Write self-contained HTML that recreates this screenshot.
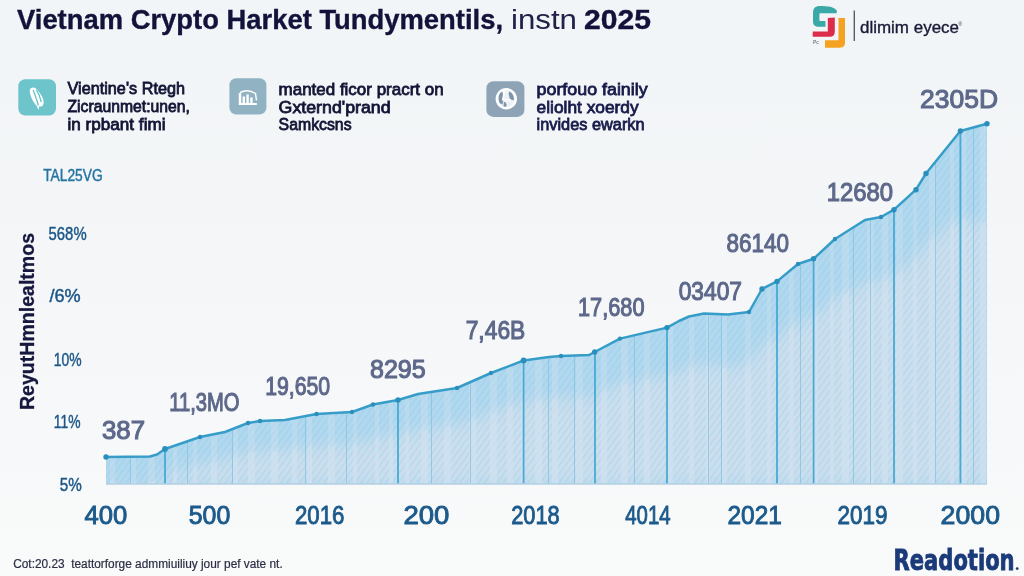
<!DOCTYPE html>
<html><head><meta charset="utf-8"><title>Vietnam Crypto Market</title>
<style>
html,body{margin:0;padding:0;width:1024px;height:576px;overflow:hidden;background:linear-gradient(180deg,#f2f5f7 0%,#f4f6f8 45%,#f9fafa 100%);}
svg{display:block;position:absolute;left:0;top:0;}
text{font-family:"Liberation Sans",Arial,sans-serif;}
.t{font-weight:700;fill:#12123a;stroke:#12123a;stroke-width:0.35px;font-size:27px;}
.b{font-size:17px;fill:#131536;stroke:#131536;stroke-width:0.8px;}
.p{font-size:18px;fill:#1c5688;stroke:#1c5688;stroke-width:0.45px;}
.d{font-size:26px;fill:#5d688a;stroke:#5d688a;stroke-width:1.1px;}
.x{font-size:25px;fill:#1c5a8b;stroke:#1c5a8b;stroke-width:0.9px;}
</style></head>
<body>
<svg width="1024" height="576" viewBox="0 0 1024 576">
<defs>
  <pattern id="hatch" patternUnits="userSpaceOnUse" width="5" height="5" patternTransform="rotate(36)">
    <rect width="1.8" height="5" fill="#9fd2ea"/>
  </pattern>
  <clipPath id="area"><path d="M106,484 L106.0,457.0 L150.0,456.5 L157.0,454.5 L165.0,449.0 L200.0,437.0 L225.0,432.0 L248.0,423.0 L260.0,421.0 L285.0,420.0 L316.5,414.0 L334.0,413.0 L352.0,412.0 L373.0,404.5 L398.0,400.0 L418.0,394.0 L457.0,388.0 L491.0,373.0 L523.6,360.5 L549.0,357.0 L561.0,356.0 L589.0,355.0 L594.7,352.0 L620.0,338.6 L667.0,327.6 L679.0,321.0 L689.0,316.5 L704.0,313.5 L728.0,314.5 L749.0,312.0 L762.0,289.0 L777.0,281.4 L798.0,264.0 L813.6,258.8 L835.0,239.0 L865.0,220.0 L881.0,217.0 L894.0,209.7 L916.0,189.7 L926.0,173.5 L960.4,131.0 L987.0,123.8 L987,484 Z"/></clipPath>
  <clipPath id="band"><path d="M106,484 L106.0,481.0 L116.0,481.3 L126.0,481.6 L136.0,481.9 L146.0,482.2 L156.1,480.8 L166.1,475.1 L176.1,472.1 L186.1,469.0 L196.1,466.0 L206.1,463.9 L216.1,462.3 L226.1,460.5 L236.1,456.9 L246.2,453.4 L256.2,451.8 L266.2,451.3 L276.2,451.3 L286.2,451.1 L296.2,449.6 L306.2,448.1 L316.2,446.6 L326.2,446.4 L336.3,446.3 L346.3,446.1 L356.3,444.7 L366.3,441.5 L376.3,438.9 L386.3,437.5 L396.3,436.2 L406.3,433.8 L416.4,431.2 L426.4,429.9 L436.4,428.8 L446.4,427.7 L456.4,426.6 L466.4,422.8 L476.4,418.9 L486.4,414.9 L496.4,411.3 L506.5,407.9 L516.5,404.5 L526.5,401.8 L536.5,400.9 L546.5,399.9 L556.5,399.4 L566.5,399.3 L576.5,399.4 L586.5,399.5 L596.6,395.9 L606.6,391.2 L616.6,386.5 L626.6,383.8 L636.6,382.2 L646.6,380.5 L656.6,378.8 L666.6,377.1 L676.6,372.4 L686.7,368.3 L696.7,366.4 L706.7,365.7 L716.7,366.8 L726.7,367.9 L736.7,367.6 L746.7,367.1 L756.7,353.8 L766.8,342.8 L776.8,338.4 L786.8,330.9 L796.8,323.3 L806.8,320.0 L816.8,315.5 L826.8,306.9 L836.8,298.9 L846.8,293.3 L856.9,288.0 L866.9,283.8 L876.9,283.1 L886.9,280.3 L896.9,274.9 L906.9,267.1 L916.9,258.6 L926.9,244.0 L936.9,235.4 L947.0,227.9 L957.0,220.5 L967.0,219.4 L977.0,221.6 L987.0,223.8 L987,484 Z"/></clipPath>
  <filter id="bl" x="-5%" y="-20%" width="110%" height="140%"><feGaussianBlur stdDeviation="8"/></filter>
</defs>
<g clip-path="url(#area)">
  <rect x="100" y="110" width="900" height="380" fill="#b2d8ef"/>
  <path d="M106,484 L106.0,481.0 L116.0,481.3 L126.0,481.6 L136.0,481.9 L146.0,482.2 L156.1,480.8 L166.1,475.1 L176.1,472.1 L186.1,469.0 L196.1,466.0 L206.1,463.9 L216.1,462.3 L226.1,460.5 L236.1,456.9 L246.2,453.4 L256.2,451.8 L266.2,451.3 L276.2,451.3 L286.2,451.1 L296.2,449.6 L306.2,448.1 L316.2,446.6 L326.2,446.4 L336.3,446.3 L346.3,446.1 L356.3,444.7 L366.3,441.5 L376.3,438.9 L386.3,437.5 L396.3,436.2 L406.3,433.8 L416.4,431.2 L426.4,429.9 L436.4,428.8 L446.4,427.7 L456.4,426.6 L466.4,422.8 L476.4,418.9 L486.4,414.9 L496.4,411.3 L506.5,407.9 L516.5,404.5 L526.5,401.8 L536.5,400.9 L546.5,399.9 L556.5,399.4 L566.5,399.3 L576.5,399.4 L586.5,399.5 L596.6,395.9 L606.6,391.2 L616.6,386.5 L626.6,383.8 L636.6,382.2 L646.6,380.5 L656.6,378.8 L666.6,377.1 L676.6,372.4 L686.7,368.3 L696.7,366.4 L706.7,365.7 L716.7,366.8 L726.7,367.9 L736.7,367.6 L746.7,367.1 L756.7,353.8 L766.8,342.8 L776.8,338.4 L786.8,330.9 L796.8,323.3 L806.8,320.0 L816.8,315.5 L826.8,306.9 L836.8,298.9 L846.8,293.3 L856.9,288.0 L866.9,283.8 L876.9,283.1 L886.9,280.3 L896.9,274.9 L906.9,267.1 L916.9,258.6 L926.9,244.0 L936.9,235.4 L947.0,227.9 L957.0,220.5 L967.0,219.4 L977.0,221.6 L987.0,223.8 L987,484 Z" fill="#c9dcec" filter="url(#bl)"/>
  <rect x="100" y="110" width="900" height="380" fill="url(#hatch)" opacity="0.7"/>
  <g fill="#d0e2ef" opacity="0.35">
    <rect x="110" y="110" width="5" height="380"/>
    <rect x="131" y="110" width="5" height="380"/>
    <rect x="148" y="110" width="7" height="380"/>
    <rect x="173" y="110" width="4" height="380"/>
    <rect x="193" y="110" width="4" height="380"/>
    <rect x="211" y="110" width="6" height="380"/>
    <rect x="233" y="110" width="5" height="380"/>
    <rect x="248" y="110" width="7" height="380"/>
    <rect x="271" y="110" width="7" height="380"/>
    <rect x="292" y="110" width="5" height="380"/>
    <rect x="307" y="110" width="5" height="380"/>
    <rect x="328" y="110" width="7" height="380"/>
    <rect x="353" y="110" width="4" height="380"/>
    <rect x="375" y="110" width="4" height="380"/>
    <rect x="389" y="110" width="4" height="380"/>
    <rect x="405" y="110" width="4" height="380"/>
    <rect x="421" y="110" width="7" height="380"/>
    <rect x="444" y="110" width="7" height="380"/>
    <rect x="469" y="110" width="7" height="380"/>
    <rect x="490" y="110" width="7" height="380"/>
    <rect x="507" y="110" width="6" height="380"/>
    <rect x="521" y="110" width="4" height="380"/>
    <rect x="535" y="110" width="7" height="380"/>
    <rect x="552" y="110" width="6" height="380"/>
    <rect x="576" y="110" width="7" height="380"/>
    <rect x="601" y="110" width="6" height="380"/>
    <rect x="621" y="110" width="7" height="380"/>
    <rect x="644" y="110" width="6" height="380"/>
    <rect x="666" y="110" width="7" height="380"/>
    <rect x="689" y="110" width="5" height="380"/>
    <rect x="706" y="110" width="4" height="380"/>
    <rect x="722" y="110" width="5" height="380"/>
    <rect x="745" y="110" width="6" height="380"/>
    <rect x="767" y="110" width="4" height="380"/>
    <rect x="789" y="110" width="5" height="380"/>
    <rect x="812" y="110" width="6" height="380"/>
    <rect x="830" y="110" width="4" height="380"/>
    <rect x="842" y="110" width="7" height="380"/>
    <rect x="867" y="110" width="7" height="380"/>
    <rect x="882" y="110" width="6" height="380"/>
    <rect x="896" y="110" width="7" height="380"/>
    <rect x="913" y="110" width="4" height="380"/>
    <rect x="929" y="110" width="7" height="380"/>
    <rect x="950" y="110" width="4" height="380"/>
    <rect x="962" y="110" width="4" height="380"/>
    <rect x="980" y="110" width="6" height="380"/>
  </g>
  <path d="M106,484 L106.0,481.0 L116.0,481.3 L126.0,481.6 L136.0,481.9 L146.0,482.2 L156.1,480.8 L166.1,475.1 L176.1,472.1 L186.1,469.0 L196.1,466.0 L206.1,463.9 L216.1,462.3 L226.1,460.5 L236.1,456.9 L246.2,453.4 L256.2,451.8 L266.2,451.3 L276.2,451.3 L286.2,451.1 L296.2,449.6 L306.2,448.1 L316.2,446.6 L326.2,446.4 L336.3,446.3 L346.3,446.1 L356.3,444.7 L366.3,441.5 L376.3,438.9 L386.3,437.5 L396.3,436.2 L406.3,433.8 L416.4,431.2 L426.4,429.9 L436.4,428.8 L446.4,427.7 L456.4,426.6 L466.4,422.8 L476.4,418.9 L486.4,414.9 L496.4,411.3 L506.5,407.9 L516.5,404.5 L526.5,401.8 L536.5,400.9 L546.5,399.9 L556.5,399.4 L566.5,399.3 L576.5,399.4 L586.5,399.5 L596.6,395.9 L606.6,391.2 L616.6,386.5 L626.6,383.8 L636.6,382.2 L646.6,380.5 L656.6,378.8 L666.6,377.1 L676.6,372.4 L686.7,368.3 L696.7,366.4 L706.7,365.7 L716.7,366.8 L726.7,367.9 L736.7,367.6 L746.7,367.1 L756.7,353.8 L766.8,342.8 L776.8,338.4 L786.8,330.9 L796.8,323.3 L806.8,320.0 L816.8,315.5 L826.8,306.9 L836.8,298.9 L846.8,293.3 L856.9,288.0 L866.9,283.8 L876.9,283.1 L886.9,280.3 L896.9,274.9 L906.9,267.1 L916.9,258.6 L926.9,244.0 L936.9,235.4 L947.0,227.9 L957.0,220.5 L967.0,219.4 L977.0,221.6 L987.0,223.8 L987,484 Z" fill="#d4e3f0" opacity="0.35" filter="url(#bl)"/>
  <g fill="#d0e2ef" opacity="0.5" clip-path="url(#band)">
    <rect x="110" y="110" width="5" height="380"/>
    <rect x="131" y="110" width="5" height="380"/>
    <rect x="148" y="110" width="7" height="380"/>
    <rect x="173" y="110" width="4" height="380"/>
    <rect x="193" y="110" width="4" height="380"/>
    <rect x="211" y="110" width="6" height="380"/>
    <rect x="233" y="110" width="5" height="380"/>
    <rect x="248" y="110" width="7" height="380"/>
    <rect x="271" y="110" width="7" height="380"/>
    <rect x="292" y="110" width="5" height="380"/>
    <rect x="307" y="110" width="5" height="380"/>
    <rect x="328" y="110" width="7" height="380"/>
    <rect x="353" y="110" width="4" height="380"/>
    <rect x="375" y="110" width="4" height="380"/>
    <rect x="389" y="110" width="4" height="380"/>
    <rect x="405" y="110" width="4" height="380"/>
    <rect x="421" y="110" width="7" height="380"/>
    <rect x="444" y="110" width="7" height="380"/>
    <rect x="469" y="110" width="7" height="380"/>
    <rect x="490" y="110" width="7" height="380"/>
    <rect x="507" y="110" width="6" height="380"/>
    <rect x="521" y="110" width="4" height="380"/>
    <rect x="535" y="110" width="7" height="380"/>
    <rect x="552" y="110" width="6" height="380"/>
    <rect x="576" y="110" width="7" height="380"/>
    <rect x="601" y="110" width="6" height="380"/>
    <rect x="621" y="110" width="7" height="380"/>
    <rect x="644" y="110" width="6" height="380"/>
    <rect x="666" y="110" width="7" height="380"/>
    <rect x="689" y="110" width="5" height="380"/>
    <rect x="706" y="110" width="4" height="380"/>
    <rect x="722" y="110" width="5" height="380"/>
    <rect x="745" y="110" width="6" height="380"/>
    <rect x="767" y="110" width="4" height="380"/>
    <rect x="789" y="110" width="5" height="380"/>
    <rect x="812" y="110" width="6" height="380"/>
    <rect x="830" y="110" width="4" height="380"/>
    <rect x="842" y="110" width="7" height="380"/>
    <rect x="867" y="110" width="7" height="380"/>
    <rect x="882" y="110" width="6" height="380"/>
    <rect x="896" y="110" width="7" height="380"/>
    <rect x="913" y="110" width="4" height="380"/>
    <rect x="929" y="110" width="7" height="380"/>
    <rect x="950" y="110" width="4" height="380"/>
    <rect x="962" y="110" width="4" height="380"/>
    <rect x="980" y="110" width="6" height="380"/>
  </g>
  <g stroke="#86c4e2" stroke-width="1" opacity="0.8">
    <line x1="130.5" y1="110" x2="130.5" y2="490"/>
    <line x1="187.5" y1="110" x2="187.5" y2="490"/>
    <line x1="232.5" y1="110" x2="232.5" y2="490"/>
    <line x1="305.5" y1="110" x2="305.5" y2="490"/>
    <line x1="346.5" y1="110" x2="346.5" y2="490"/>
    <line x1="431.5" y1="110" x2="431.5" y2="490"/>
    <line x1="470.5" y1="110" x2="470.5" y2="490"/>
    <line x1="548.5" y1="110" x2="548.5" y2="490"/>
    <line x1="574.5" y1="110" x2="574.5" y2="490"/>
    <line x1="634.5" y1="110" x2="634.5" y2="490"/>
    <line x1="708.5" y1="110" x2="708.5" y2="490"/>
    <line x1="721.5" y1="110" x2="721.5" y2="490"/>
    <line x1="800.5" y1="110" x2="800.5" y2="490"/>
    <line x1="853.5" y1="110" x2="853.5" y2="490"/>
    <line x1="870.5" y1="110" x2="870.5" y2="490"/>
    <line x1="935.5" y1="110" x2="935.5" y2="490"/>
    <line x1="973.5" y1="110" x2="973.5" y2="490"/>
  </g>
</g>
<g stroke="#48aad4" stroke-width="1.8">
  <line x1="165" y1="449" x2="165" y2="484"/>
  <line x1="398" y1="400" x2="398" y2="484"/>
  <line x1="523.6" y1="360.5" x2="523.6" y2="484"/>
  <line x1="595" y1="352" x2="595" y2="484"/>
  <line x1="667" y1="327.6" x2="667" y2="484"/>
  <line x1="777" y1="281.4" x2="777" y2="484"/>
  <line x1="813.6" y1="258.8" x2="813.6" y2="484"/>
  <line x1="894" y1="209.7" x2="894" y2="484"/>
  <line x1="960.4" y1="131" x2="960.4" y2="484"/>
</g>
<line x1="106" y1="484" x2="987" y2="484" stroke="#b3cfe3" stroke-width="1.5"/>
<polyline fill="none" stroke="#359dc8" stroke-width="2.5" stroke-linejoin="round" stroke-linecap="round" points="106.0,457.0 150.0,456.5 157.0,454.5 165.0,449.0 200.0,437.0 225.0,432.0 248.0,423.0 260.0,421.0 285.0,420.0 316.5,414.0 334.0,413.0 352.0,412.0 373.0,404.5 398.0,400.0 418.0,394.0 457.0,388.0 491.0,373.0 523.6,360.5 549.0,357.0 561.0,356.0 589.0,355.0 594.7,352.0 620.0,338.6 667.0,327.6 679.0,321.0 689.0,316.5 704.0,313.5 728.0,314.5 749.0,312.0 762.0,289.0 777.0,281.4 798.0,264.0 813.6,258.8 835.0,239.0 865.0,220.0 881.0,217.0 894.0,209.7 916.0,189.7 926.0,173.5 960.4,131.0 987.0,123.8"/>
<g fill="#2a8fbd">
  <circle cx="106" cy="457" r="2.7"/>
  <circle cx="165" cy="449" r="2.9"/>
  <circle cx="200" cy="437" r="2.2"/>
  <circle cx="248" cy="423" r="2.2"/>
  <circle cx="260" cy="421" r="2.2"/>
  <circle cx="316.5" cy="414" r="2.2"/>
  <circle cx="352" cy="412" r="2.2"/>
  <circle cx="373" cy="404.5" r="2.2"/>
  <circle cx="398" cy="400" r="2.7"/>
  <circle cx="457" cy="388" r="2.2"/>
  <circle cx="491" cy="373" r="2.2"/>
  <circle cx="523.6" cy="360.5" r="2.9"/>
  <circle cx="561" cy="356" r="2.2"/>
  <circle cx="594.7" cy="352" r="2.7"/>
  <circle cx="620" cy="338.6" r="2.2"/>
  <circle cx="667" cy="327.6" r="2.7"/>
  <circle cx="749" cy="312" r="2.2"/>
  <circle cx="762" cy="289" r="2.7"/>
  <circle cx="777" cy="281.4" r="2.7"/>
  <circle cx="798" cy="264" r="2.2"/>
  <circle cx="813.6" cy="258.8" r="2.7"/>
  <circle cx="835" cy="239" r="2.2"/>
  <circle cx="881" cy="217" r="2.2"/>
  <circle cx="894" cy="209.7" r="2.7"/>
  <circle cx="916" cy="189.7" r="2.7"/>
  <circle cx="926" cy="173.5" r="2.7"/>
  <circle cx="960.4" cy="131" r="2.7"/>
  <circle cx="987" cy="123.75" r="2.7"/>
</g>
<!-- title -->
<text class="t" x="17" y="29.2" textLength="486" lengthAdjust="spacingAndGlyphs">Vietnam Crypto Harket Tundymentils,</text>
<text x="511" y="29.2" font-size="27" fill="#20224a" textLength="66" lengthAdjust="spacingAndGlyphs">instn</text>
<text class="t" x="584" y="29.2" font-size="28" textLength="67" lengthAdjust="spacingAndGlyphs">2025</text>

<!-- logo -->
<path d="M837,11 C834,6.5 828,6 820,6 C815,6 813,8.5 813,13 L813,21.5 C813,25 815,26.8 819,26.8 L825.5,26.8 L825.5,21 L820,21 C819.6,21 819.4,20.6 819.4,20 L819.4,14 C819.4,13.6 819.8,13.3 820.5,13.3 L836.5,13.3 Z" fill="#3aa9a8"/>
<path d="M827.8,18 L834.8,17.6 L834.8,32 C834.8,35 833,36.8 830,36.8 L812.7,36.8 L812.7,31.6 L827.8,31.6 Z" fill="#dc2c4c"/>
<path d="M838.5,18 L845,18 L845,42.5 C845,46 843,47.7 839.5,47.7 L825,47.7 L825,40.3 L838.5,40.3 Z" fill="#f5a223"/>
<text x="813" y="43.6" font-size="5" fill="#555566">Pc</text>
<line x1="854.3" y1="10.5" x2="854.3" y2="41" stroke="#5a5a6a" stroke-width="1.4"/>
<text x="860" y="33.4" font-size="17" fill="#1a1a38" stroke="#1a1a38" stroke-width="0.35" textLength="99" lengthAdjust="spacingAndGlyphs">dlimim eyece</text>
<text x="958.5" y="25.5" font-size="5" fill="#333344">®</text>

<!-- icon blocks -->
<rect x="18.3" y="79.3" width="37.7" height="36.2" rx="7" fill="#6dc4ca"/>
<path d="M30.5,88.5 C33,86.3 36,87.5 38.2,90.8 C41,94.8 44,98.8 43.6,103 C43.3,106 41.3,107.2 39.3,106.2 L38.4,110 L36.9,106.2 C34,103 31,98.4 30.1,93.6 C29.6,91.2 29.6,89.6 30.5,88.5 Z" fill="#ffffff"/>
<path d="M33.2,90 C35,95 37,100 38.3,105.5 M36.4,89.6 C38.6,93.2 40.3,97.5 41.2,102" fill="none" stroke="#66c2c9" stroke-width="1.3"/>
<text class="b" x="67.5" y="94" textLength="117.5" lengthAdjust="spacingAndGlyphs">Vientine's Rtegh</text>
<text class="b" x="67.5" y="111.7" textLength="122.5" lengthAdjust="spacingAndGlyphs">Zicraunmet:unen,</text>
<text class="b" x="67.5" y="130" textLength="98" lengthAdjust="spacingAndGlyphs">in rpbant fimi</text>

<rect x="229.4" y="78.2" width="37" height="36.3" rx="7" fill="#90b2c3"/>
<g fill="#ffffff"><rect x="238.8" y="93" width="2.4" height="11.5"/><rect x="242.6" y="96.5" width="2.4" height="8"/><rect x="246.4" y="94.5" width="2.4" height="10"/><rect x="250.2" y="97.5" width="2.4" height="7"/><rect x="238.8" y="103" width="18" height="2"/></g>
<path d="M240,92.5 Q248,88.5 255.5,93.5 L256.5,100.5" fill="none" stroke="#ffffff" stroke-width="1.4"/>
<text class="b" x="278.6" y="94.6" textLength="165" lengthAdjust="spacingAndGlyphs">manted ficor pracrt on</text>
<text class="b" x="278.6" y="112.7" textLength="112" lengthAdjust="spacingAndGlyphs">Gxternd'prand</text>
<text class="b" x="278.6" y="129.8" textLength="73" lengthAdjust="spacingAndGlyphs">Samkcsns</text>

<rect x="486.4" y="81.2" width="38" height="35.7" rx="7" fill="#8ea4b6"/>
<circle cx="506.3" cy="98.8" r="9.6" fill="#eef2f5" stroke="#ffffff" stroke-width="2.2"/>
<path d="M500.5,92.5 C498.5,95 498,99 499.5,103 L502.5,104.5 L503.5,99 L502.6,92 Z M509.3,91.3 C512.6,93 514.3,96.5 513.9,100.3 L510,99.6 L508.6,94 Z M503.8,102 C505.5,101.5 507.4,103.5 506.2,106.8 L503.5,106.5 Z" fill="#7d95aa"/>
<path d="M504.5,90.8 L502.8,99.8 L511,99.8" fill="none" stroke="#ffffff" stroke-width="1.6"/>
<text class="b" style="fill:#181b4a;stroke:#181b4a" x="536.6" y="94.6" textLength="111" lengthAdjust="spacingAndGlyphs">porfouo fainily</text>
<text class="b" style="fill:#181b4a;stroke:#181b4a" x="536.6" y="113" textLength="102" lengthAdjust="spacingAndGlyphs">eliolht xoerdy</text>
<text class="b" style="fill:#181b4a;stroke:#181b4a" x="536.6" y="129.8" textLength="108" lengthAdjust="spacingAndGlyphs">invides ewarkn</text>

<!-- axis labels -->
<text x="43.2" y="180.5" font-size="16" fill="#2574a4" stroke="#2574a4" stroke-width="0.45" textLength="59.5" lengthAdjust="spacingAndGlyphs">TAL25VG</text>
<text class="p" x="48.6" y="240.2" textLength="38" lengthAdjust="spacingAndGlyphs">568%</text>
<text class="p" x="49.4" y="301.5" textLength="31.2" lengthAdjust="spacingAndGlyphs">/6%</text>
<text class="p" x="53.8" y="365.8" textLength="27.8" lengthAdjust="spacingAndGlyphs">10%</text>
<text class="p" x="53.8" y="428.3" textLength="26.7" lengthAdjust="spacingAndGlyphs">11%</text>
<text class="p" x="59.7" y="490.8" textLength="22" lengthAdjust="spacingAndGlyphs">5%</text>
<text transform="translate(33.5,410) rotate(-90)" font-size="20" font-weight="700" fill="#16183e" stroke="#16183e" stroke-width="0.3" textLength="177" lengthAdjust="spacingAndGlyphs">ReyutHmnlealtmos</text>

<!-- data labels -->
<text class="d" x="102" y="439.4" textLength="43" lengthAdjust="spacingAndGlyphs">387</text>
<text class="d" x="169.2" y="411.25" textLength="70.3" lengthAdjust="spacingAndGlyphs">11,3MO</text>
<text class="d" x="265.2" y="394.7" textLength="65" lengthAdjust="spacingAndGlyphs">19,650</text>
<text class="d" x="370" y="378" textLength="55.7" lengthAdjust="spacingAndGlyphs">8295</text>
<text class="d" x="465.7" y="338.7" textLength="59.6" lengthAdjust="spacingAndGlyphs">7,46B</text>
<text class="d" x="578" y="316.25" textLength="66.5" lengthAdjust="spacingAndGlyphs">17,680</text>
<text class="d" x="678.7" y="300" textLength="63.3" lengthAdjust="spacingAndGlyphs">03407</text>
<text class="d" x="726.5" y="252.2" textLength="62.5" lengthAdjust="spacingAndGlyphs">86140</text>
<text class="d" x="826.7" y="200.6" textLength="66.4" lengthAdjust="spacingAndGlyphs">12680</text>
<text class="d" x="920" y="108" textLength="78" lengthAdjust="spacingAndGlyphs">2305D</text>

<!-- x axis -->
<text class="x" x="84.4" y="523.75" textLength="42.8" lengthAdjust="spacingAndGlyphs">400</text>
<text class="x" x="188.75" y="523.75" textLength="41.5" lengthAdjust="spacingAndGlyphs">500</text>
<text class="x" x="295" y="523.75" textLength="49.4" lengthAdjust="spacingAndGlyphs">2016</text>
<text class="x" x="403.4" y="523.75" textLength="46" lengthAdjust="spacingAndGlyphs">200</text>
<text class="x" x="511.25" y="523.75" textLength="48.5" lengthAdjust="spacingAndGlyphs">2018</text>
<text class="x" x="625.3" y="523.75" textLength="45.3" lengthAdjust="spacingAndGlyphs">4014</text>
<text class="x" x="727.5" y="523.75" textLength="54.4" lengthAdjust="spacingAndGlyphs">2021</text>
<text class="x" x="837.5" y="523.75" textLength="50" lengthAdjust="spacingAndGlyphs">2019</text>
<text class="x" x="940.6" y="523.75" textLength="59.4" lengthAdjust="spacingAndGlyphs">2000</text>

<!-- footer -->
<text xml:space="preserve" x="13.2" y="567.8" font-size="12" fill="#2c2e44" stroke="#2c2e44" stroke-width="0.2" textLength="269.5" lengthAdjust="spacingAndGlyphs">Cot:20.23  teattorforge admmiuiliuy jour pef vate nt.</text>
<text x="893.6" y="570" font-size="28" font-weight="700" fill="#1b3a7a" stroke="#1b3a7a" stroke-width="0.8" textLength="121" lengthAdjust="spacingAndGlyphs" style="font-family:'DejaVu Sans','Liberation Sans',sans-serif;font-stretch:condensed">Readotion</text>
<circle cx="1017.2" cy="568.6" r="1.4" fill="#1b3a7a"/>
</svg>
</body></html>
